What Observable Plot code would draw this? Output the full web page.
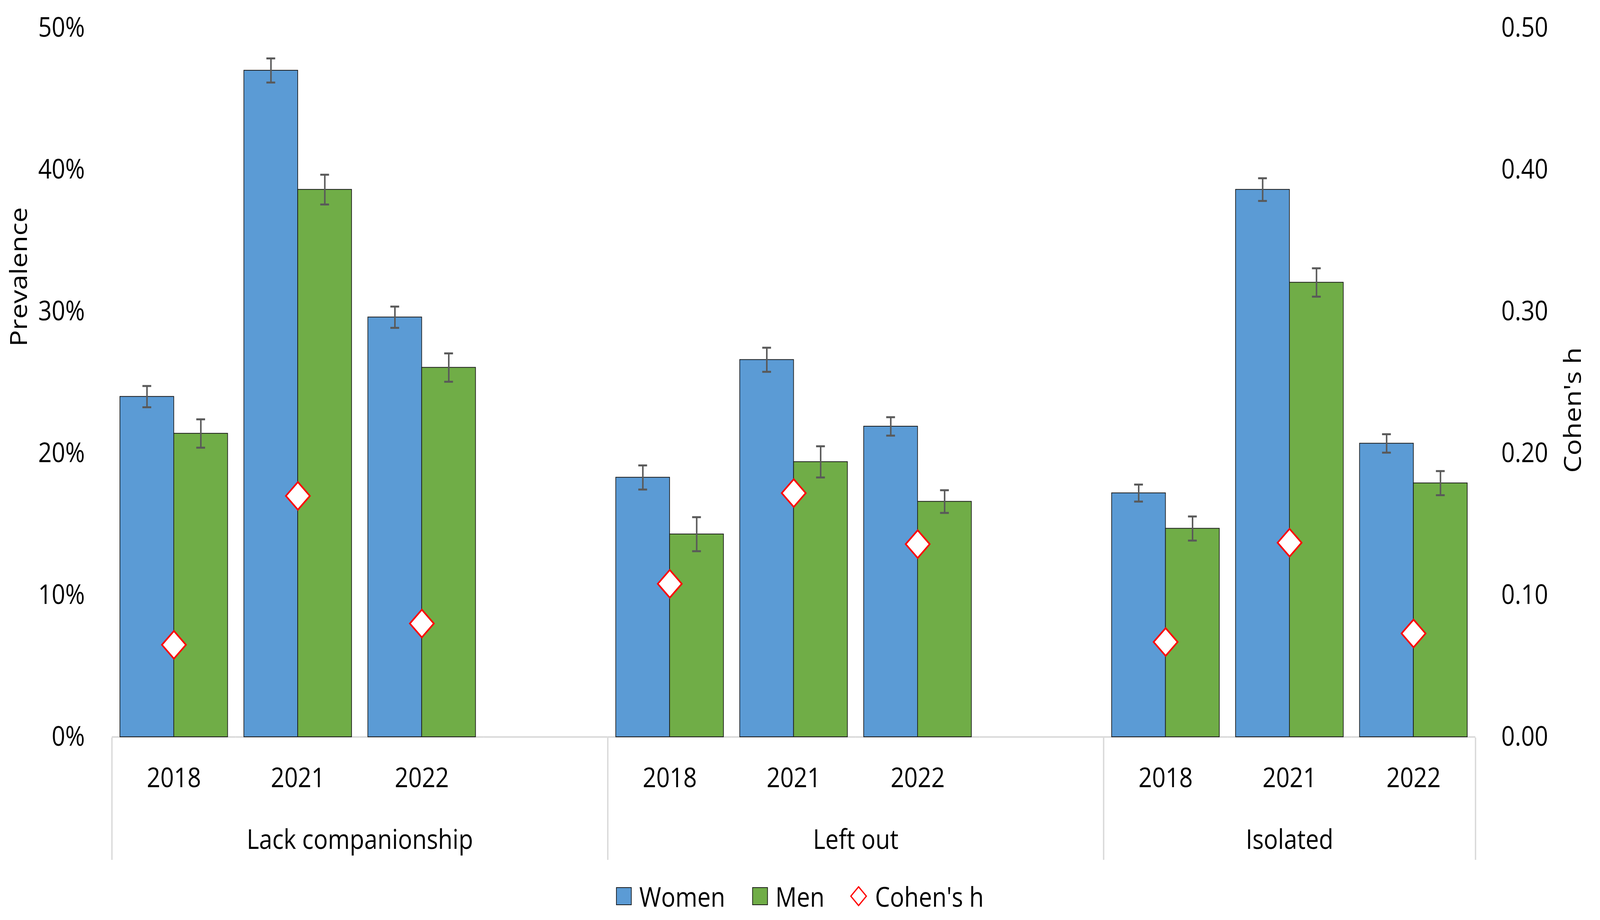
<!DOCTYPE html>
<html>
<head>
<meta charset="utf-8">
<script src="https://cdn.jsdelivr.net/npm/d3@7"></script>
<script src="https://cdn.jsdelivr.net/npm/@observablehq/plot@0.6"></script>
<style>
  html, body { margin: 0; padding: 0; background: #ffffff; overflow: hidden; }
  #outer { position: relative; overflow: hidden; }
  #chart { width: 4724px; height: 2355px; font-family: "Open Sans", Lato, sans-serif; color: #000; transform-origin: 0 0; position: absolute; left: 0; top: 0; }
  #chart svg { display: block; }
  .legend { display: flex; justify-content: center; align-items: center; height: 154px; box-sizing: border-box; padding-top: 32px; font-size: 70px; line-height: 1; }
  .legend .item { display: flex; align-items: center; }
  .legend .sw { width: 46px; height: 46px; box-sizing: border-box; border: 2px solid #1a1a1a; margin-right: 22px; }
  .legend svg { margin-right: 23px; }
</style>
</head>
<body>
<div id="outer"><div id="chart"></div></div>
<script>
// ---------- data ----------
const groups = ["Lack companionship", "Left out", "Isolated"];
const groupYears = [["2018", "2021", "2022", ""], ["2018", "2021", "2022", ""], ["2018", "2021", "2022"]];
const years = ["2018", "2021", "2022"];
const series = ["Women", "Men"];
// prevalence, % (group-major: Lack 2018/2021/2022, Left out ..., Isolated ...)
const womenPrev = [24.0, 47.0, 29.6, 18.3, 26.6, 21.9, 17.2, 38.6, 20.7];
const womenCI   = [0.75, 0.85, 0.75, 0.85, 0.85, 0.65, 0.6, 0.8, 0.65];
const menPrev   = [21.4, 38.6, 26.05, 14.3, 19.4, 16.6, 14.7, 32.05, 17.9];
const menCI     = [1.0, 1.05, 1.0, 1.2, 1.1, 0.8, 0.85, 1.0, 0.85];
const cohenH    = [0.065, 0.170, 0.080, 0.108, 0.172, 0.136, 0.067, 0.137, 0.073];
const yTicks    = [0, 0.1, 0.2, 0.3, 0.4, 0.5];

// ---------- layout / style ----------
const W = 4724, H = 2355;
const FONT = "'Open Sans', Lato, sans-serif";
const FS = 70;
const ML = 330, MR = 368;
const PAD_OUT = 0.151;
const COLORS = ["#5B9BD5", "#70AD47"];
const ERR = "#595959";

// ---------- derived tables ----------
const slots = [];
groups.forEach((g, gi) => groupYears[gi].forEach((y, yi) => {
  slots.push({key: g + "|" + yi, group: g, year: y, index: slots.length});
}));
const slotKeys = slots.map(d => d.key);

const groupSpans = [];
{
  let start = 0;
  groups.forEach((g, gi) => {
    const n = groupYears[gi].length;
    groupSpans.push({group: g, start, end: start + n});
    start += n;
  });
}
const boundaries = [0, ...groupSpans.map(d => d.end)];

const rows = [];
const hRows = [];
{
  let k = 0;
  groups.forEach((g, gi) => years.forEach((y) => {
    const key = g + "|" + groupYears[gi].indexOf(y);
    rows.push({slot: key, sex: "Women", value: womenPrev[k] / 100, lo: (womenPrev[k] - womenCI[k]) / 100, hi: (womenPrev[k] + womenCI[k]) / 100});
    rows.push({slot: key, sex: "Men", value: menPrev[k] / 100, lo: (menPrev[k] - menCI[k]) / 100, hi: (menPrev[k] + menCI[k]) / 100});
    hRows.push({slot: key, h: cohenH[k]});
    k++;
  }));
}

const step = (W - ML - MR) / slots.length;
const barW = step / (2 + 2 * PAD_OUT);
const capInset = (barW - 26) / 2;

const diamond = {
  draw(ctx, size) {
    const r = Math.sqrt(size / 2);
    ctx.moveTo(0, -r); ctx.lineTo(r, 0); ctx.lineTo(0, r); ctx.lineTo(-r, 0); ctx.closePath();
  }
};

const svgStyle = {fontFamily: FONT, fontSize: FS + "px", color: "#000", background: "transparent", overflow: "visible"};

// ---------- main chart ----------
const main = Plot.plot({
  width: W,
  height: 1888,
  marginTop: 71,
  marginBottom: 2,
  marginLeft: ML,
  marginRight: MR,
  style: svgStyle,
  fx: {domain: slotKeys, padding: 0, round: false, axis: null},
  x: {domain: series, paddingInner: 0, paddingOuter: PAD_OUT, round: false, axis: null},
  y: {domain: [0, 0.5]},
  color: {domain: series, range: COLORS},
  marks: [
    Plot.ruleY(slots, {fx: "key", y: () => 0, stroke: "#d9d9d9", strokeWidth: 4}),
    Plot.barY(rows, {fx: "slot", x: "sex", y: "value", fill: "sex", stroke: "#1a1a1a", strokeWidth: 2}),
    Plot.ruleX(rows, {fx: "slot", x: "sex", y1: "lo", y2: "hi", stroke: ERR, strokeWidth: 4.5}),
    Plot.tickY(rows, {fx: "slot", x: "sex", y: "lo", insetLeft: capInset, insetRight: capInset, stroke: ERR, strokeWidth: 5}),
    Plot.tickY(rows, {fx: "slot", x: "sex", y: "hi", insetLeft: capInset, insetRight: capInset, stroke: ERR, strokeWidth: 5}),
    Plot.dot(hRows, {fx: "slot", y: "h", symbol: diamond, r: 28.3, fill: "white", stroke: "#FF0000", strokeWidth: 4.5}),
    Plot.axisY({anchor: "left", ticks: yTicks, tickFormat: d3.format(".0%"), tickSize: 0, tickPadding: 80, label: null}),
    Plot.axisY({anchor: "right", ticks: yTicks, tickFormat: d3.format(".2f"), tickSize: 0, tickPadding: 76, label: null}),
    Plot.text(["Prevalence"], {facet: "super", frameAnchor: "left", text: d => d, rotate: -90, dx: -273, dy: -92}),
    Plot.text(["Cohen's h"], {facet: "super", frameAnchor: "right", text: d => d, rotate: -90, dx: 289, dy: -90})
  ]
});

// ---------- category axis (multi-level) ----------
const axisPlot = Plot.plot({
  width: W,
  height: 313,
  marginTop: 0,
  marginBottom: 0,
  marginLeft: ML,
  marginRight: MR,
  style: svgStyle,
  x: {domain: [0, slots.length], axis: null},
  marks: [
    Plot.ruleX(boundaries, {stroke: "#d9d9d9", strokeWidth: 4}),
    Plot.text(slots.filter(d => d.year), {x: d => d.index + 0.5, text: "year", frameAnchor: "top", lineAnchor: "middle", dy: 104}),
    Plot.text(groupSpans, {x: d => (d.start + d.end) / 2, text: "group", frameAnchor: "top", lineAnchor: "middle", dy: 262})
  ]
});

// ---------- legend ----------
const legend = document.createElement("div");
legend.className = "legend";
legend.innerHTML =
  '<div class="item"><div class="sw" style="background:' + COLORS[0] + '"></div><span>Women</span></div>' +
  '<div class="item" style="margin-left:80px"><div class="sw" style="background:' + COLORS[1] + '"></div><span>Men</span></div>' +
  '<div class="item" style="margin-left:76px"><svg width="50" height="52" viewBox="-25 -26 50 52"><polygon points="0,-24 23,0 0,24 -23,0" fill="white" stroke="#FF0000" stroke-width="3.5"/></svg><span>Cohen\'s h</span></div>';

const chart = document.getElementById("chart");
chart.appendChild(main);
chart.appendChild(axisPlot);
chart.appendChild(legend);

// fit the 4724x2355 design to the actual viewport
function fit() {
  const vw = window.innerWidth || document.documentElement.clientWidth || W;
  const vh = window.innerHeight || document.documentElement.clientHeight || H;
  const sx = vw / W, sy = vh / H;
  chart.style.transform = "scale(" + sx + "," + sy + ")";
  const outer = document.getElementById("outer");
  outer.style.width = vw + "px";
  outer.style.height = vh + "px";
}
fit();
window.addEventListener("resize", fit);
</script>
</body>
</html>
